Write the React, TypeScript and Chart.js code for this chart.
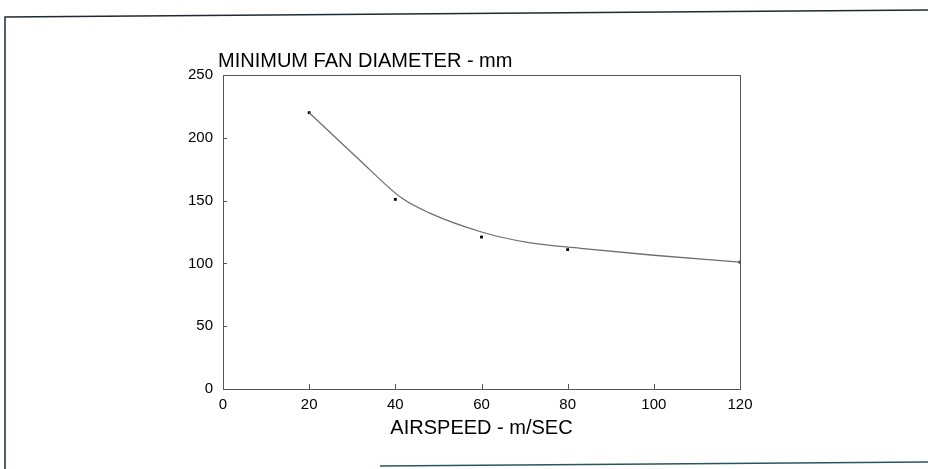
import React, { useEffect, useRef } from "react";
import { Chart, registerables } from "chart.js";

Chart.register(...registerables);

// Measured points (airspeed m/s -> minimum fan diameter mm)
const airspeed = [20, 40, 60, 80, 120];
const fanDiameter = [220, 151, 121, 111, 101];

// Hand-drawn fitted curve
const curveX = [20, 31.5, 41.5, 48, 60, 71, 83, 100, 120];
const curveY = [220, 183, 152, 140, 125, 116.5, 112, 106.5, 101];

const xTicks = [0, 20, 40, 60, 80, 100, 120];
const yTicks = [0, 50, 100, 150, 200, 250];
const yTitle = "MINIMUM FAN DIAMETER - mm";
const xTitle = "AIRSPEED - m/SEC";

const FONT = "'Liberation Sans', Arial, Helvetica, sans-serif";

const decorPlugin = {
  id: "decor",
  afterDraw(chart: any) {
    const { ctx, chartArea: a, scales } = chart;
    const xs = scales.x;
    const ys = scales.y;
    ctx.save();
    // plot box
    ctx.strokeStyle = "#555";
    ctx.lineWidth = 1;
    ctx.strokeRect(Math.round(a.left) + 0.5, Math.round(a.top) + 0.5, Math.round(a.right - a.left), Math.round(a.bottom - a.top));
    // inward ticks
    ctx.beginPath();
    for (const v of xTicks) {
      if (v === xTicks[0] || v === xTicks[xTicks.length - 1]) continue;
      const px = Math.round(xs.getPixelForValue(v)) + 0.5;
      ctx.moveTo(px, a.bottom);
      ctx.lineTo(px, a.bottom - 5);
    }
    for (const v of yTicks) {
      if (v === yTicks[0] || v === yTicks[yTicks.length - 1]) continue;
      const py = Math.round(ys.getPixelForValue(v)) + 0.5;
      ctx.moveTo(a.left, py);
      ctx.lineTo(a.left + 4, py);
    }
    ctx.stroke();
    // top title
    ctx.fillStyle = "#000";
    ctx.font = `20px ${FONT}`;
    ctx.textBaseline = "middle";
    ctx.textAlign = "left";
    ctx.fillText(yTitle, a.left - 5, 61);
    // scanned page frame
    ctx.strokeStyle = "#1f2a33";
    ctx.lineWidth = 1.5;
    ctx.beginPath();
    ctx.moveTo(928, 10);
    ctx.lineTo(5, 17);
    ctx.lineTo(5, 469);
    ctx.stroke();
    ctx.strokeStyle = "#2a5560";
    ctx.beginPath();
    ctx.moveTo(380, 466);
    ctx.lineTo(928, 462);
    ctx.stroke();
    ctx.restore();
  },
};

export default function App() {
  const ref = useRef<HTMLCanvasElement>(null);

  useEffect(() => {
    document.body.style.margin = "0";
    const canvas = ref.current;
    if (!canvas) return;
    const chart = new Chart(canvas, {
      type: "scatter",
      data: {
        datasets: [
          {
            type: "line",
            label: "curve",
            data: curveX.map((x, i) => ({ x, y: curveY[i] })),
            borderColor: "#6f6f6f",
            borderWidth: 1.3,
            pointRadius: 0,
            fill: false,
            cubicInterpolationMode: "monotone",
          },
          {
            type: "scatter",
            label: "measured",
            data: airspeed.map((x, i) => ({ x, y: fanDiameter[i] })),
            backgroundColor: "#000",
            borderColor: "#000",
            pointStyle: "rect",
            pointRadius: 2,
            borderWidth: 0,
          },
        ],
      },
      options: {
        responsive: false,
        animation: false,
        events: [],
        layout: { padding: { left: 173, right: 188, top: 75, bottom: 29 } },
        plugins: { legend: { display: false }, tooltip: { enabled: false }, title: { display: false } },
        scales: {
          x: {
            type: "linear",
            min: 0,
            max: 120,
            afterBuildTicks: (s: any) => {
              s.ticks = xTicks.map((v) => ({ value: v }));
            },
            afterFit: (s: any) => {
              s.height = 51;
            },
            grid: { display: false, drawTicks: false },
            border: { display: false },
            ticks: { color: "#000", font: { family: FONT, size: 15 }, padding: 7, maxRotation: 0 },
            title: {
              display: true,
              text: xTitle,
              color: "#000",
              font: { family: FONT, size: 20 },
              padding: { top: 0, bottom: 0 },
            },
          },
          y: {
            type: "linear",
            min: 0,
            max: 250,
            afterBuildTicks: (s: any) => {
              s.ticks = yTicks.map((v) => ({ value: v }));
            },
            afterFit: (s: any) => {
              s.width = 50;
            },
            grid: { display: false, drawTicks: false },
            border: { display: false },
            ticks: { color: "#000", font: { family: FONT, size: 15 }, padding: 10 },
          },
        },
      },
      plugins: [decorPlugin],
    } as any);
    return () => chart.destroy();
  }, []);

  return (
    <div style={{ width: 928, height: 469, background: "#fff" }}>
      <canvas ref={ref} width={928} height={469} style={{ display: "block" }} />
    </div>
  );
}
